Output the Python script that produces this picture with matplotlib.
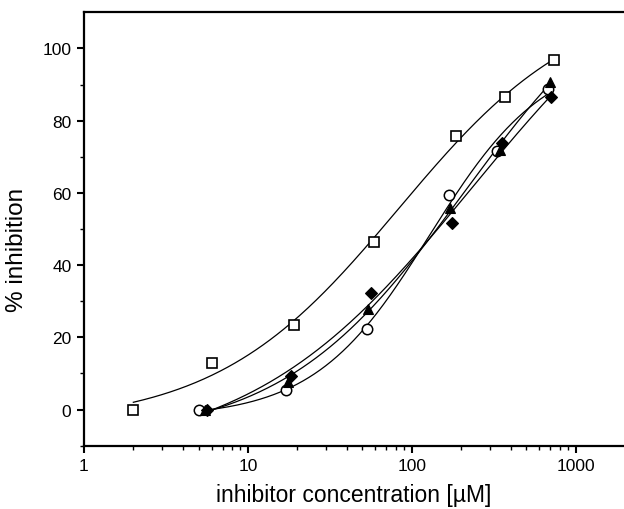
import numpy as np
import matplotlib
matplotlib.use("Agg")
import matplotlib.pyplot as plt
from matplotlib.ticker import LogLocator, FixedLocator, NullFormatter

plt.rcParams['font.family'] = ['Liberation Sans', 'DejaVu Sans']

# ---- data ----
sq_x = [2, 6, 19, 59, 186, 370, 740]
sq_y = [0, 13, 23.3, 46.4, 75.7, 86.6, 96.7]

ci_x = [5.05, 17.1, 53.3, 168.6, 333, 674]
ci_y = [0, 5.4, 22.3, 59.5, 71.6, 88.7]

tr_x = [5.5, 17.5, 54.2, 171, 345, 697]
tr_y = [0, 7.7, 27.9, 55.8, 72.0, 90.8]

di_x = [5.65, 18.2, 56.4, 177, 356, 711]
di_y = [0, 9.3, 32.4, 51.7, 73.8, 86.5]

curve_start = [2.0, 5.8, 5.8, 5.8]

x_ticks = [1, 10, 100, 1000]
y_ticks = [0, 20, 40, 60, 80, 100]


def hill(x, bottom, top, logc, n):
    return bottom + (top - bottom) / (1.0 + 10 ** ((logc - np.log10(x)) * n))


def fit_hill(x, y):
    x = np.asarray(x, float)
    y = np.asarray(y, float)
    best = None
    for logc in np.linspace(0.5, 3.5, 301):
        for n in np.linspace(0.4, 2.5, 211):
            g = 1.0 / (1.0 + 10 ** ((logc - np.log10(x)) * n))
            A = np.column_stack([1 - g, g])
            coef, *_ = np.linalg.lstsq(A, y, rcond=None)
            r = np.sum((A @ coef - y) ** 2)
            if best is None or r < best[0]:
                best = (r, coef[0], coef[1], logc, n)
    return best[1:]


fig = plt.figure(figsize=(6.24, 5.10), dpi=100)
ax = fig.add_axes([84 / 624, 1 - 446.7 / 510, 1 - 84 / 624, (446.7 - 13.3) / 510])

series = [
    (sq_x, sq_y, dict(marker='s', mfc='white', mec='black', ms=7, mew=1.2)),
    (ci_x, ci_y, dict(marker='o', mfc='white', mec='black', ms=7.5, mew=1.1)),
    (tr_x, tr_y, dict(marker='^', mfc='black', mec='black', ms=7.5, mew=0.8)),
    (di_x, di_y, dict(marker='D', mfc='black', mec='black', ms=6, mew=0.8)),
]

for (xs, ys, st), xs0 in zip(series, curve_start):
    p = fit_hill(xs, ys)
    xx = np.logspace(np.log10(xs0), np.log10(xs[-1]), 300)
    ax.plot(xx, hill(xx, *p), color='black', lw=0.9, zorder=2)

for xs, ys, st in series:
    ax.plot(xs, ys, ls='none', zorder=3, **st)

ax.set_xscale('log')
ax.set_xlim(1, 10 ** ((624 - 83.7) / 164))
ax.set_ylim(-10, 110)

ax.xaxis.set_major_locator(FixedLocator(x_ticks))
ax.set_xticklabels([str(v) for v in x_ticks])
ax.xaxis.set_minor_locator(LogLocator(base=10, subs=np.arange(2, 10)))
ax.xaxis.set_minor_formatter(NullFormatter())
ax.yaxis.set_major_locator(FixedLocator(y_ticks))
ax.set_yticklabels([str(v) for v in y_ticks])
ax.yaxis.set_minor_locator(FixedLocator([-10, 10, 30, 50, 70, 90]))

for s in ['left', 'bottom', 'top']:
    ax.spines[s].set_linewidth(1.6)
ax.spines['right'].set_visible(False)

ax.tick_params(axis='both', which='major', direction='out', length=5, width=1.5,
               labelsize=12.5, pad=4)
ax.tick_params(axis='both', which='minor', direction='out', length=3, width=1.0)
ax.tick_params(axis='x', which='both', top=False)

ax.set_xlabel('inhibitor concentration [\u00b5M]', fontsize=16.5)
ax.set_ylabel('% inhibition', fontsize=17.5)
ax.xaxis.set_label_coords(0.5, -0.086)
ax.yaxis.set_label_coords(-0.104, 0.454)

fig.savefig('out.png', dpi=100)
